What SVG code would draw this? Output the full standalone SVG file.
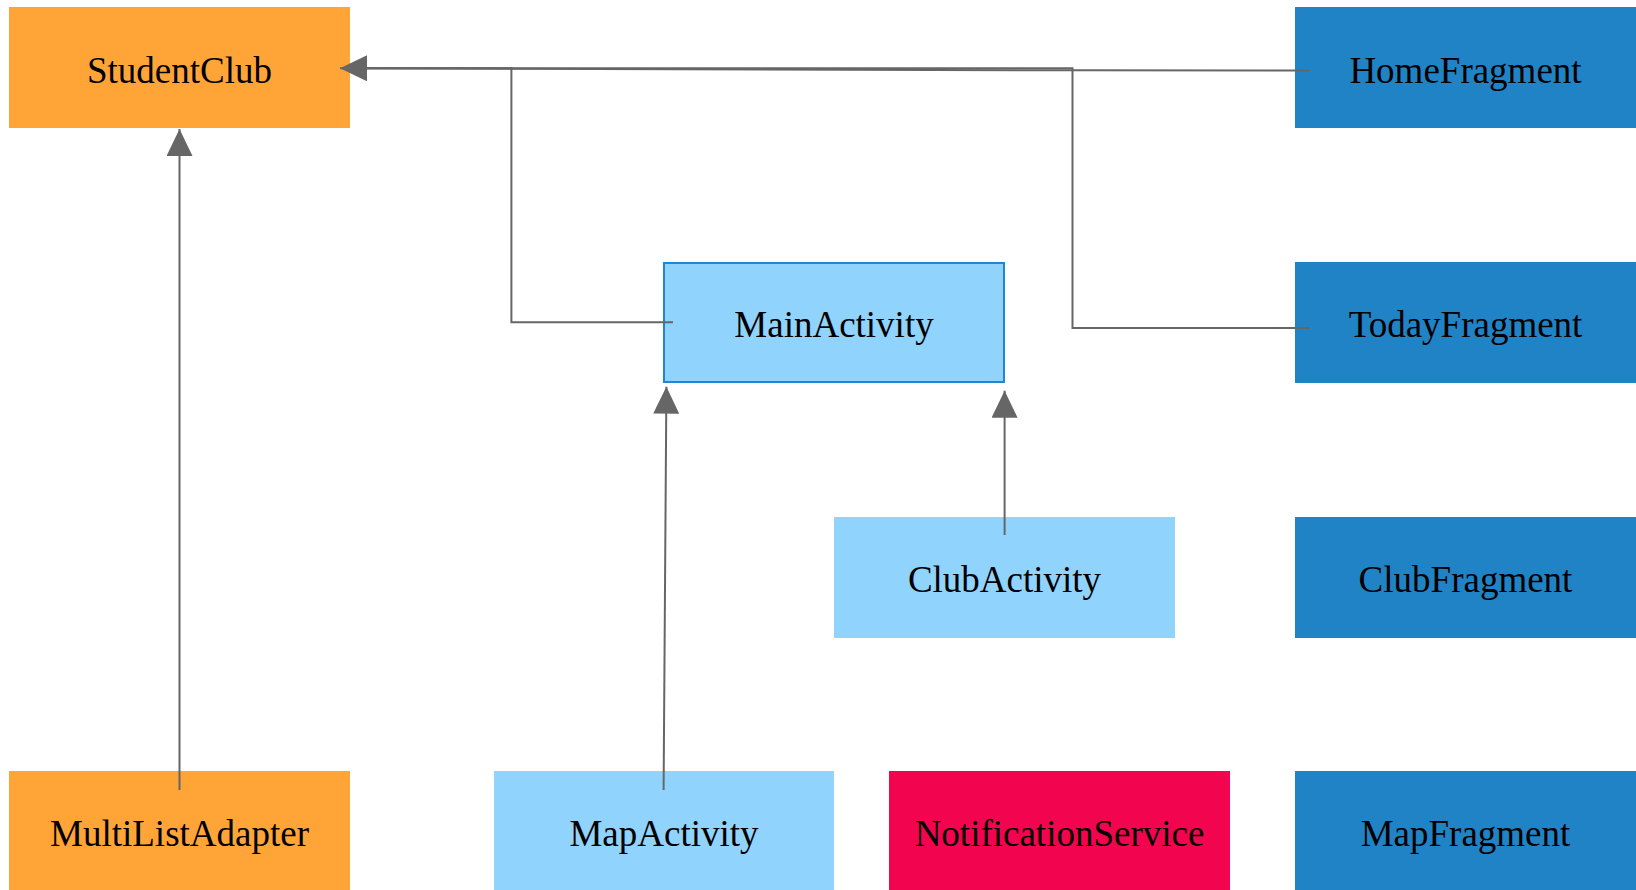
<svg xmlns="http://www.w3.org/2000/svg" width="1636" height="890" viewBox="0 0 1636 890">
<style>
.orange{fill:#FFA538}
.light{fill:#90D3FC}
.dark{fill:#2083C6}
.red{fill:#F2044F}
.lbl{font-family:"Liberation Serif","Times New Roman",serif;font-size:37px;fill:#000;text-anchor:middle}
.conn{fill:none;stroke:#666666;stroke-width:2}
</style>
<defs>
<marker id="arrow" markerUnits="userSpaceOnUse" markerWidth="27" markerHeight="26" viewBox="0 0 27 26" refX="27" refY="13" orient="auto">
<path d="M0,0 L27,13 L0,26 z" fill="#666666"/>
</marker>
</defs>
<rect width="1636" height="890" fill="#ffffff"/>
<g id="StudentClub"><rect class="orange" x="9" y="7" width="341" height="121"/><text class="lbl" x="179.5" y="83">StudentClub</text></g>
<g id="HomeFragment"><rect class="dark" x="1295" y="7" width="341" height="121"/><text class="lbl" x="1465.5" y="83">HomeFragment</text></g>
<g id="MainActivity"><rect class="light" x="664" y="263" width="340" height="119" stroke="#1E86D2" stroke-width="2"/><text class="lbl" x="834" y="337">MainActivity</text></g>
<g id="TodayFragment"><rect class="dark" x="1295" y="262" width="341" height="121"/><text class="lbl" x="1465.5" y="337">TodayFragment</text></g>
<g id="ClubActivity"><rect class="light" x="834" y="517" width="341" height="121"/><text class="lbl" x="1004.5" y="592">ClubActivity</text></g>
<g id="ClubFragment"><rect class="dark" x="1295" y="517" width="341" height="121"/><text class="lbl" x="1465.5" y="592">ClubFragment</text></g>
<g id="MultiListAdapter"><rect class="orange" x="9" y="771" width="341" height="119"/><text class="lbl" x="179.5" y="846">MultiListAdapter</text></g>
<g id="MapActivity"><rect class="light" x="494" y="771" width="340" height="119"/><text class="lbl" x="664" y="846">MapActivity</text></g>
<g id="NotificationService"><rect class="red" x="889" y="771" width="341" height="119"/><text class="lbl" x="1059.5" y="846">NotificationService</text></g>
<g id="MapFragment"><rect class="dark" x="1295" y="771" width="341" height="119"/><text class="lbl" x="1465.5" y="846">MapFragment</text></g>
<g id="connectors">
<path class="conn" d="M179.5,790 L179.5,129" marker-end="url(#arrow)"/>
<path class="conn" d="M673,322.3 L511.4,322.3 L511.4,68.3 L340,68.3" marker-end="url(#arrow)"/>
<path class="conn" d="M1310,70.5 L1073,70.3 L367,68.3"/>
<path class="conn" d="M1310,328 L1072.5,328 L1072.5,68.3 L367,68.3"/>
<path class="conn" d="M663.6,790 L666.4,386.7" marker-end="url(#arrow)"/>
<path class="conn" d="M1004.6,535 L1004.6,390.7" marker-end="url(#arrow)"/>
</g>
</svg>
